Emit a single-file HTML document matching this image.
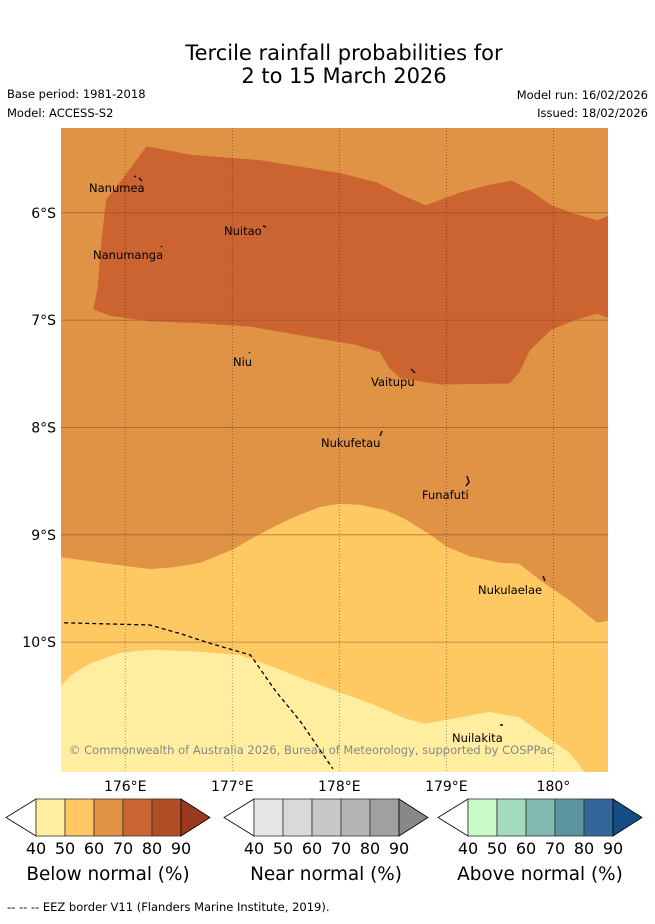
<!DOCTYPE html>
<html><head><meta charset="utf-8"><style>
html,body{margin:0;padding:0;background:#fff;}
svg text{font-family:"DejaVu Sans","Liberation Sans",sans-serif;}
</style></head><body>
<svg id="fig" width="655" height="919" viewBox="0 0 655 919" xmlns="http://www.w3.org/2000/svg">
<text x="344" y="60" font-size="21" text-anchor="middle">Tercile rainfall probabilities for</text>
<text x="344" y="83" font-size="21" text-anchor="middle">2 to 15 March 2026</text>
<text x="7" y="98" font-size="11.5">Base period: 1981-2018</text>
<text x="7" y="117" font-size="11.5">Model: ACCESS-S2</text>
<text x="648" y="99" font-size="11.5" text-anchor="end">Model run: 16/02/2026</text>
<text x="648" y="117" font-size="11.5" text-anchor="end">Issued: 18/02/2026</text>
<defs><clipPath id="mc"><rect x="61" y="128" width="547" height="644"/></clipPath></defs>
<g id="map" clip-path="url(#mc)"></g>
<g id="axes"></g>
<g id="labels" font-size="11.5">
<text x="89" y="192">Nanumea</text>
<text x="224" y="235">Nuitao</text>
<text x="93" y="259">Nanumanga</text>
<text x="233" y="366">Niu</text>
<text x="371" y="386">Vaitupu</text>
<text x="321" y="447">Nukufetau</text>
<text x="422" y="499">Funafuti</text>
<text x="478" y="594">Nukulaelae</text>
<text x="452" y="742">Nuilakita</text>
<text x="69" y="754" fill="#888">© Commonwealth of Australia 2026, Bureau of Meteorology, supported by COSPPac</text>
</g>
<g id="islands" stroke="#111" stroke-width="1.5" fill="none">
<path d="M134 176 L136 177 M139 178 L142 181"/>
<path d="M263 226 L266 227"/>
<path d="M161 246 L162 247"/>
<path d="M249 352 L250 353"/>
<path d="M411 369 L415 373"/>
<path d="M382 431 L380 436"/>
<path d="M467 476 L469 482 L466 486"/>
<path d="M543 576 L545 581"/>
<path d="M500 725 L503 725"/>
</g>
<g id="cbars"></g>
<text x="7" y="911" font-size="11.5">--  --  -- EEZ border V11 (Flanders Marine Institute, 2019).</text>
</svg>
<script>
// map extent
const lonMin = 175.40, lonMax = 180.51, latMin = 5.21, latMax = 11.21; // lat in degrees south
const lonTicks = [176, 177, 178, 179, 180];
const lonTickLabels = ["176°E", "177°E", "178°E", "179°E", "180°"];
const latTicks = [6, 7, 8, 9, 10];
const latTickLabels = ["6°S", "7°S", "8°S", "9°S", "10°S"];
// contour boundaries [lon, latS]
const above70Contour = [[175.70,6.90],[175.74,6.72],[175.77,6.35],[175.82,5.88],[176.00,5.65],[176.20,5.38],[176.61,5.46],[177.26,5.51],[178.01,5.63],[178.36,5.72],[178.57,5.83],[178.81,5.93],[179.13,5.81],[179.40,5.74],[179.61,5.70],[179.78,5.79],[179.98,5.93],[180.20,6.01],[180.41,6.07],[180.51,6.03],[180.51,6.98],[180.41,6.94],[180.20,7.00],[179.98,7.09],[179.78,7.28],[179.68,7.49],[179.59,7.59],[178.94,7.60],[178.57,7.54],[178.47,7.45],[178.38,7.30],[178.15,7.23],[177.63,7.14],[177.17,7.06],[176.70,7.03],[176.23,7.01],[175.86,6.96]];
const below60Boundary = [[175.40,9.21],[175.77,9.26],[176.23,9.32],[176.47,9.30],[176.70,9.26],[177.00,9.14],[177.26,8.99],[177.54,8.85],[177.82,8.74],[178.01,8.71],[178.19,8.72],[178.43,8.77],[178.61,8.85],[178.85,9.00],[179.00,9.11],[179.22,9.20],[179.50,9.26],[179.68,9.27],[179.87,9.42],[180.15,9.61],[180.41,9.82],[180.51,9.80]];
const below50Boundary = [[175.40,10.41],[175.49,10.31],[175.67,10.20],[175.95,10.10],[176.23,10.07],[176.70,10.09],[177.07,10.12],[177.35,10.22],[177.63,10.33],[178.01,10.47],[178.29,10.57],[178.61,10.71],[178.80,10.76],[179.13,10.70],[179.40,10.65],[179.68,10.70],[179.92,10.87],[180.15,11.03],[180.29,11.21]];
const eezBorder = [[175.43,9.82],[176.23,9.84],[176.51,9.92],[176.79,10.01],[177.17,10.12],[177.40,10.45],[177.63,10.73],[177.94,11.18]];
const cbTicks = ["40","50","60","70","80","90"];
const belowColors = ["#ffeda0","#fec862","#e09245","#cc6432","#b04f26","#9a3a1e"];
const nearColors = ["#e6e6e6","#d9d9d9","#c8c8c8","#b5b5b5","#a0a0a0","#888888"];
const aboveColors = ["#c8fbc8","#a4dabd","#82b9b1","#5b93a0","#336799","#144d85"];

const NS="http://www.w3.org/2000/svg";
const X0=61,X1=608,Y0=128,Y1=772;
const px=lon=>X0+(lon-lonMin)/(lonMax-lonMin)*(X1-X0);
const py=lat=>Y0+(lat-latMin)/(latMax-latMin)*(Y1-Y0);
const pts=a=>a.map(p=>px(p[0]).toFixed(1)+","+py(p[1]).toFixed(1)).join(" ");
function mk(tag,attrs,parent){const e=document.createElementNS(NS,tag);for(const k in attrs)e.setAttribute(k,attrs[k]);parent.appendChild(e);return e;}
const map=document.getElementById('map');
let e=mk('rect',{x:X0,y:Y0,width:X1-X0,height:Y1-Y0,fill:"#e09245"},map);


e=mk('polygon',{points:pts(above70Contour),fill:"#cc6432"},map);


e=mk('polygon',{points:pts(below60Boundary.concat([[lonMax,latMax],[lonMin,latMax]])),fill:"#fec862"},map);


e=mk('polygon',{points:pts(below50Boundary.concat([[lonMin,latMax]])),fill:"#ffeda0"},map);


lonTicks.forEach(l=>{e=mk('line',{x1:px(l),x2:px(l),y1:Y0,y2:Y1,stroke:"#000","stroke-opacity":0.45,"stroke-width":0.8,"stroke-dasharray":"1,2"},map);

});
latTicks.forEach(l=>{e=mk('line',{x1:X0,x2:X1,y1:py(l),y2:py(l),stroke:"#7a4a20","stroke-opacity":0.6,"stroke-width":0.8},map);

});
e=mk('polyline',{points:pts(eezBorder),fill:"none",stroke:"#000","stroke-width":1.3,"stroke-dasharray":"4,3"},map);


const ax=document.getElementById('axes');
lonTicks.forEach((l,i)=>{e=mk('text',{x:px(l),y:791,"font-size":14,"text-anchor":"middle"},ax);e.textContent=lonTickLabels[i];

});
latTicks.forEach((l,i)=>{e=mk('text',{x:56,y:py(l)+5,"font-size":14,"text-anchor":"end"},ax);e.textContent=latTickLabels[i];

});
const cb=document.getElementById('cbars');
const bars=[[36,belowColors,"Below normal (%)","below"],[254,nearColors,"Near normal (%)","near"],[468,aboveColors,"Above normal (%)","above"]];
bars.forEach(b=>{
  const x=b[0],c=b[1],w=29,yt=799,yb=836,ym=817.5;
  const g=mk('g',{},cb);
  
  
  mk('polygon',{points:`${x},${yt} ${x-30},${ym} ${x},${yb}`,fill:"#fff",stroke:"#000","stroke-width":0.8},g);
  for(let i=0;i<5;i++){e=mk('rect',{x:x+i*w,y:yt,width:w,height:yb-yt,fill:c[i],stroke:"#333","stroke-width":0.8},g);
    
    }
  mk('polygon',{points:`${x+5*w},${yt} ${x+5*w+29},${ym} ${x+5*w},${yb}`,fill:c[5],stroke:"#000","stroke-width":0.8},g);
  cbTicks.forEach((t,i)=>{e=mk('text',{x:x+i*w,y:854,"font-size":16,"text-anchor":"middle"},g);e.textContent=t;
    
    });
  e=mk('text',{x:x+72,y:880,"font-size":18.4,"text-anchor":"middle"},g);e.textContent=b[2];
  
  
});
</script>
</body></html>
